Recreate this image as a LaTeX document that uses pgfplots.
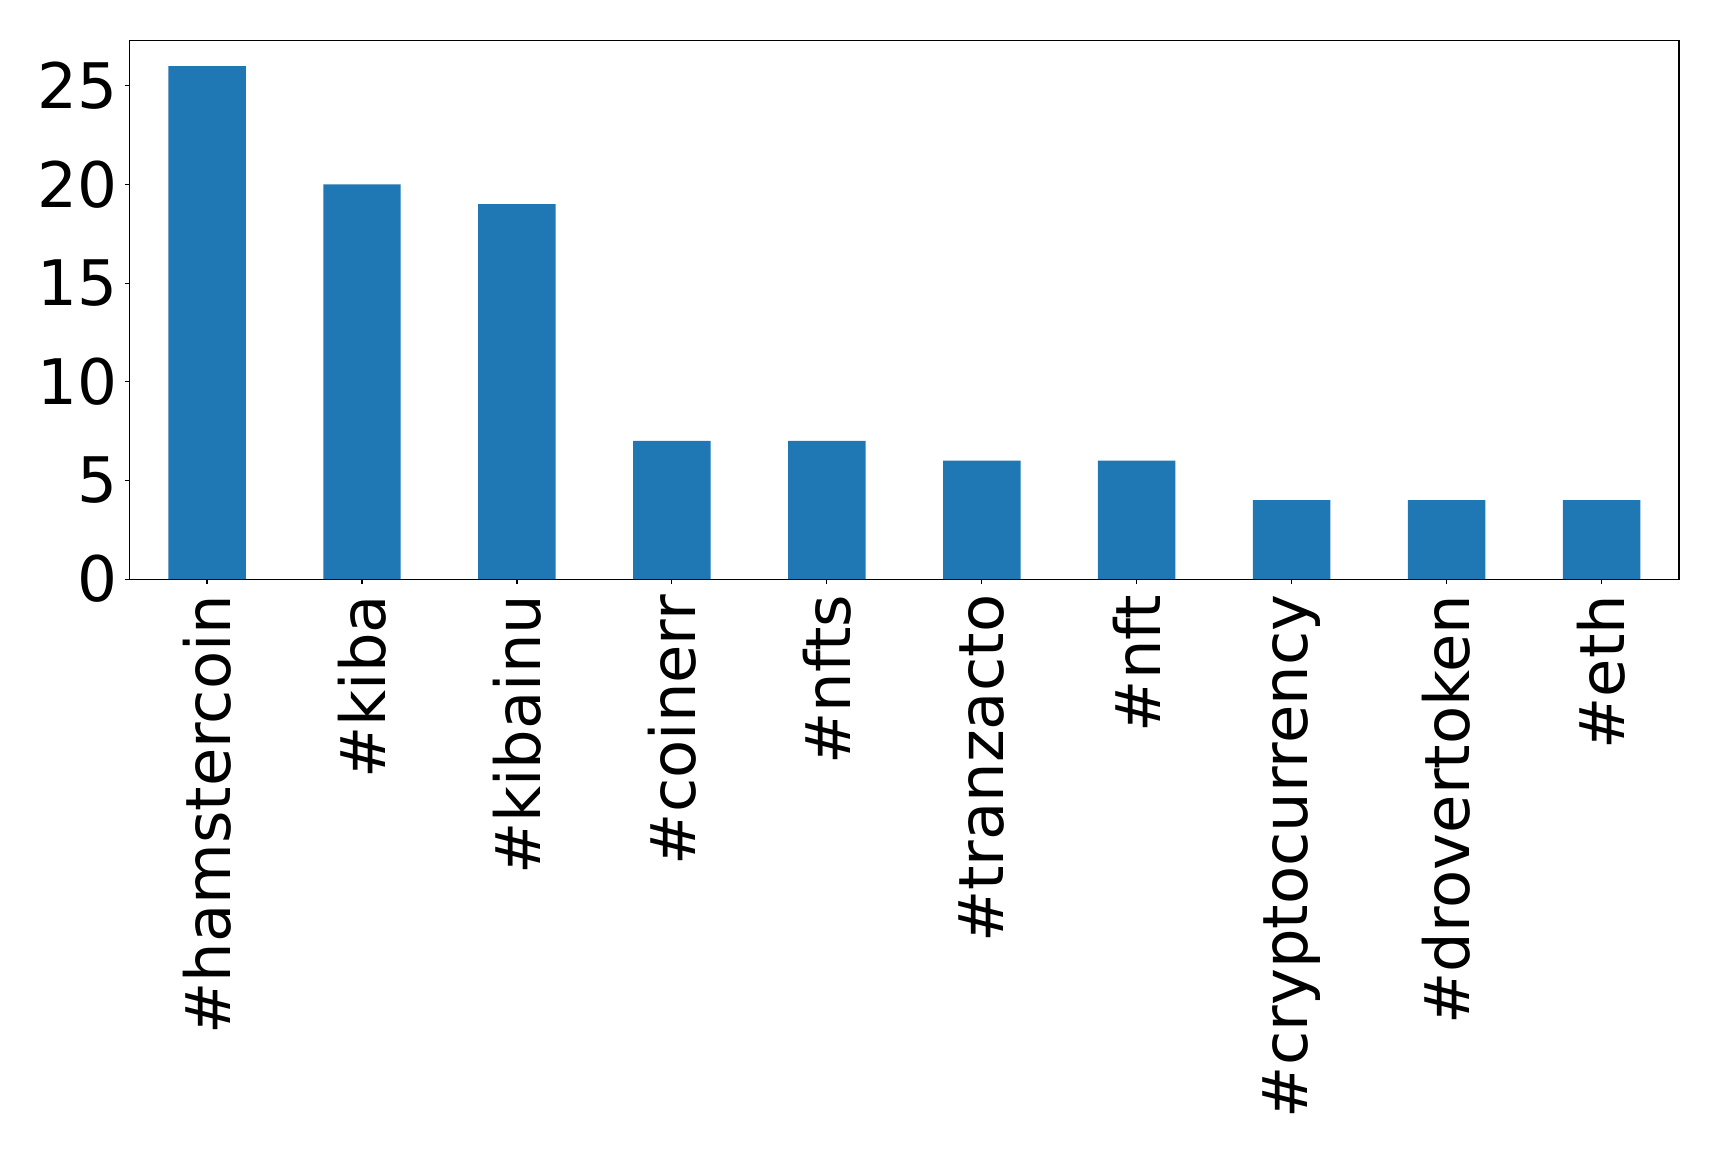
\documentclass[border=0pt]{standalone}
\usepackage{pgfplots}
\pgfplotsset{compat=1.18}
\usepackage{fontspec}
\setmainfont{DejaVu Sans}
\definecolor{tabblue}{HTML}{1F77B4}
\begin{document}
\begin{tikzpicture}
\begin{axis}[
  scale only axis,
  width=387.4pt, height=134.7pt,
  xmin=-0.5, xmax=9.5, ymin=0, ymax=27.3,
  axis line style={line width=0.3pt},
  tick style={line width=0.3pt, black},
  tick align=outside,
  major tick length=1.2pt,
  xtick pos=bottom, ytick pos=left,
  xtick={0,...,9},
  xticklabels={\#hamstercoin,\#kiba,\#kibainu,\#coinerr,\#nfts,\#tranzacto,\#nft,\#cryptocurrency,\#drovertoken,\#eth},
  ytick={0,5,10,15,20,25},
  /pgf/number format/assume math mode=true,
  yticklabel style={font=\fontsize{15.7}{19}\selectfont, xshift=1.6pt},
  x tick label style={font=\fontsize{15.6}{19}\selectfont, rotate=90, anchor=east},
  xticklabel shift=-0.8pt,
]
\addplot[ybar, bar width=0.5, fill=tabblue, draw=none] coordinates {
 (0,26) (1,20) (2,19) (3,7) (4,7) (5,6) (6,6) (7,4) (8,4) (9,4)
};
\end{axis}
\pgfresetboundingbox
\path (current axis.south west)+(-32.4pt,-143.5pt) coordinate (bl);
\path (current axis.north east)+(10pt,10.1pt) coordinate (tr);
\path (bl) rectangle (tr);
\end{tikzpicture}
\end{document}
